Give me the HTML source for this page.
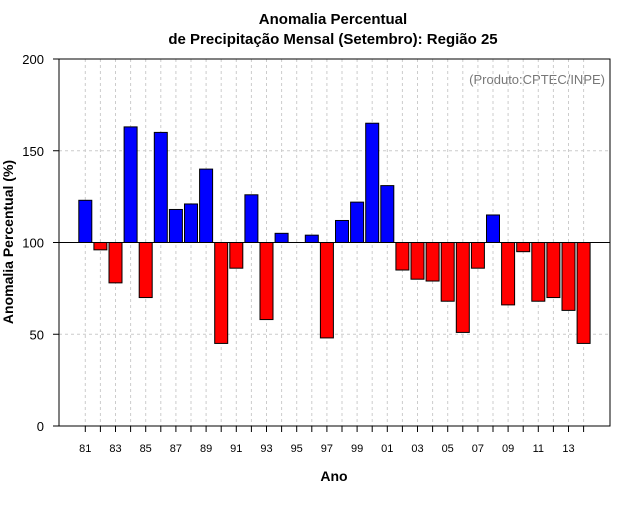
<!DOCTYPE html>
<html><head><meta charset="utf-8"><style>
body{margin:0;background:#fff;font-family:"Liberation Sans",sans-serif}
</style></head><body>
<svg width="640" height="500" xmlns="http://www.w3.org/2000/svg" font-family="Liberation Sans, sans-serif">
<rect width="640" height="500" fill="#fff"/>
<text x="333" y="24" text-anchor="middle" font-size="15" font-weight="bold">Anomalia Percentual</text>
<text x="333" y="44" text-anchor="middle" font-size="15" font-weight="bold">de Precipitação Mensal (Setembro): Região 25</text>
<text x="605" y="84" text-anchor="end" font-size="13" fill="#777">(Produto:CPTEC/INPE)</text>
<text x="334" y="481" text-anchor="middle" font-size="14" font-weight="bold">Ano</text>
<text transform="translate(13,242) rotate(-90)" text-anchor="middle" font-size="14" font-weight="bold">Anomalia Percentual (%)</text>
<g id="grid"></g><g id="bars"></g><g id="axes"></g>
<rect x="59" y="59" width="551" height="367" fill="none" stroke="#000" stroke-width="1"/>
</svg>
<script>
const years=["81","82","83","84","85","86","87","88","89","90","91","92","93","94","95","96","97","98","99","00","01","02","03","04","05","06","07","08","09","10","11","12","13","14"];
const values=[123,96,78,163,70,160,118,121,140,45,86,126,58,105,100,104,48,112,122,165,131,85,80,79,68,51,86,115,66,95,68,70,63,45];
const yTicks=[0,50,100,150,200];
const NS="http://www.w3.org/2000/svg";
const X=i=>85.3+i*15.1;
const Y=v=>426-v*(367/200);
function mk(t,a,p){const e=document.createElementNS(NS,t);for(const k in a)e.setAttribute(k,a[k]);p.appendChild(e);return e;}
const grid=document.getElementById('grid'),bars=document.getElementById('bars'),axes=document.getElementById('axes');
yTicks.forEach(v=>{
 if(v>0&&v<200){const l=mk('line',{x1:59,x2:610,y1:Y(v),y2:Y(v),stroke:'#ccc','stroke-dasharray':'3,3'},grid);
 
 }
 const t=mk('line',{x1:53,x2:59,y1:Y(v),y2:Y(v),stroke:'#000'},axes);
 
 
 const tx=mk('text',{x:44,y:Y(v)+5,'text-anchor':'end','font-size':13},axes);tx.textContent=v;
 
 
});
years.forEach((y,i)=>{
 const g=mk('line',{x1:X(i),x2:X(i),y1:59,y2:426,stroke:'#ccc','stroke-dasharray':'3,3'},grid);
 
 
 const t=mk('line',{x1:X(i),x2:X(i),y1:426,y2:432,stroke:'#000'},axes);
 
 
 if(i%2===0){const tx=mk('text',{x:X(i),y:452,'text-anchor':'middle','font-size':11},axes);tx.textContent=y;
 
 }
 const v=values[i],top=Math.min(Y(v),Y(100)),h=Math.abs(Y(v)-Y(100));
 const r=mk('rect',{x:X(i)-6.5,y:top,width:13,height:h,fill:v>=100?'#0000ff':'#ff0000',stroke:'#000','stroke-width':1},bars);
 
 
});
const b=mk('line',{x1:59,x2:610,y1:Y(100),y2:Y(100),stroke:'#000'},axes);


</script>
</body></html>
